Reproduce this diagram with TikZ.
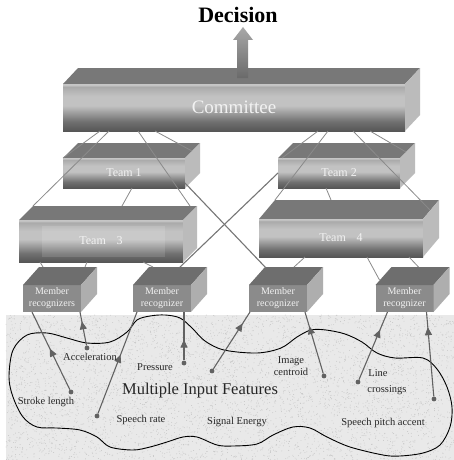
\documentclass[tikz,border=0pt]{standalone}
\usepackage{fontspec}
\setmainfont{Liberation Serif}
\usetikzlibrary{arrows.meta,decorations.markings}

% face colours of the prisms
\definecolor{pfBot}{HTML}{565656}
\definecolor{pfLow}{HTML}{707070}
\definecolor{pfLight}{HTML}{C2C2C2}
\definecolor{pfHigh}{HTML}{AAAAAA}
\definecolor{pfEdge}{HTML}{D2D2D2}
\definecolor{boxTop}{HTML}{787878}
\definecolor{boxSide}{HTML}{BBBBBB}
\definecolor{memFront}{HTML}{8B8B8B}
\definecolor{memTop}{HTML}{6E6E6E}
\definecolor{memSide}{HTML}{AEAEAE}
\definecolor{faceText}{HTML}{F2F2F2}
\definecolor{wire}{HTML}{8A8A8A}
\definecolor{crosswire}{HTML}{767676}
\definecolor{featline}{HTML}{626262}
\definecolor{ground}{HTML}{E9E9E9}
\definecolor{grain}{HTML}{C6C6C6}
\definecolor{arrowTop}{HTML}{A8A8A8}
\definecolor{arrowBot}{HTML}{6A6A6A}

\pgfdeclareverticalshading{prismface}{100bp}{color(0bp)=(pfBot); color(25bp)=(pfBot); color(35bp)=(pfLow); color(52bp)=(pfLight); color(62bp)=(pfLight); color(72bp)=(pfHigh); color(75bp)=(pfEdge); color(100bp)=(pfEdge)}

% top and right faces of a prism whose front face is the node #1
\newcommand\prismsides[5]{%
  \fill[#4] (#1.north west) -- ([xshift=#2pt,yshift=#3pt]#1.north west)
    -- ([xshift=#2pt,yshift=#3pt]#1.north east) -- (#1.north east) -- cycle;
  \fill[#5] (#1.north east) -- ([xshift=#2pt,yshift=#3pt]#1.north east)
    -- ([xshift=#2pt,yshift=#3pt]#1.south east) -- (#1.south east) -- cycle;
}

\begin{document}
\begin{tikzpicture}[x=1pt,y=-1pt,
  prism/.style={shade, shading=prismface, inner sep=0pt, outer sep=0pt,
    text=faceText, font=\fontsize{12}{14}\selectfont},
  member/.style={fill=memFront, inner sep=0pt, outer sep=0pt,
    minimum width=58pt, minimum height=27pt, text=faceText, align=center,
    font=\fontsize{10}{12}\selectfont},
  wireline/.style={draw=wire, line width=0.8pt},
  crossline/.style={draw=crosswire, line width=1.1pt},
  fdot/.style={circle, fill=featline, inner sep=0pt, minimum size=4.8pt},
  feed/.style={draw=featline, line width=1.1pt, postaction={decorate},
    decoration={markings, mark=at position #1 with {\arrow{Triangle[length=8pt,width=7pt]}}}},
  flabel/.style={text=black!85, inner sep=0pt, font=\fontsize{10.5}{12.5}\selectfont}]

\useasboundingbox (0,0) rectangle (454,460);
\fill[white] (0,0) rectangle (454,460);

% speckled ground under the feature cloud
\fill[ground] (6,315) rectangle (454,460);
\pgfmathsetseed{11}
\foreach \k in {1,...,5200} {
  \pgfmathsetmacro\px{6+448*rnd}
  \pgfmathsetmacro\py{315+145*rnd}
  \fill[grain] (\px,\py) circle (0.45pt);
}

% outline of the feature cloud
\draw[black, line width=0.9pt] plot[smooth cycle, tension=0.55] coordinates {
  (9,377) (13,350) (27,335) (47,333) (67,338) (87,343) (110,342) (127,332)
  (137,320) (150,316) (165,315) (180,318) (192,328) (205,341) (224,350)
  (257,353) (281,348) (297,337) (311,330) (326,330) (345,334) (362,342)
  (377,353) (395,358) (423,358) (437,369) (447,387) (452,407) (450,427)
  (440,445) (423,453) (400,456) (383,455) (350,447) (327,437) (310,428)
  (293,427) (273,435) (257,444) (233,446) (217,445) (197,437) (183,437)
  (167,442) (150,447) (133,450) (110,447) (97,437) (80,430) (57,428)
  (37,427) (23,417) (13,397)};

% decision heading
\node[font=\fontsize{22}{24}\selectfont\bfseries] (dec) at (238,15) {Decision};

% committee
\node[prism, minimum width=342pt, minimum height=47pt,
      font=\fontsize{19}{21}\selectfont] (com) at (234,107.5) {Committee};
\prismsides{com}{15}{16}{boxTop}{boxSide}

% output arrow on the committee
\shade[top color=arrowTop, bottom color=arrowBot]
  (237,78) -- (237,40) -- (233,40) -- (243,27) -- (253,40) -- (248,40) -- (248,78) -- cycle;

% teams
\node[prism, minimum width=122pt, minimum height=30pt] (t1) at (124,173) {Team 1};
\prismsides{t1}{15}{15}{boxTop}{boxSide}
\node[prism, minimum width=122pt, minimum height=30pt] (t2) at (339,173) {Team 2};
\prismsides{t2}{15}{15}{boxTop}{boxSide}
\node[prism, minimum width=164pt, minimum height=42pt] (t3) at (101,241) {Team\hspace{0.9em}3};
\prismsides{t3}{14}{14}{boxTop}{boxSide}
\fill[white, opacity=0.12] ([xshift=23pt,yshift=-6pt]t3.north west)
  rectangle ([xshift=-18pt,yshift=5pt]t3.south east);
\node[prism, minimum width=164pt, minimum height=38pt] (t4) at (341,238) {Team\hspace{0.9em}4};
\prismsides{t4}{16}{19}{boxTop}{boxSide}

% member recognizers
\node[member] (m1) at (52,298.5) {Member\\recognizers};
\prismsides{m1}{16}{18}{memTop}{memSide}
\node[member] (m2) at (162,298.5) {Member\\recognizer};
\prismsides{m2}{16}{18}{memTop}{memSide}
\node[member] (m3) at (278,298.5) {Member\\recognizer};
\prismsides{m3}{16}{18}{memTop}{memSide}
\node[member] (m4) at (404.5,298.5) {Member\\recognizer};
\prismsides{m4}{16}{18}{memTop}{memSide}

% committee to teams
\draw[wireline] ([xshift=37pt]com.south west) -- (t1.north west);
\draw[wireline] ([xshift=46pt]com.south west) -- ([xshift=14pt,yshift=14pt]t3.north west);
\draw[wireline] ([xshift=75pt]com.south west) -- ([xshift=7pt,yshift=14pt]t3.north east);
\draw[wireline] ([xshift=92pt]com.south west) -- ([xshift=7pt,yshift=7pt]t1.north east);
\draw[wireline] ([xshift=255pt]com.south west) -- ([xshift=4pt]t2.north west);
\draw[wireline] ([xshift=265pt]com.south west) -- ([xshift=16pt,yshift=19pt]t4.north west);
\draw[wireline] ([xshift=290pt]com.south west) -- ([xshift=7pt,yshift=9pt]t4.north east);
\draw[wireline] ([xshift=307pt]com.south west) -- ([xshift=6pt,yshift=6pt]t2.north east);

% team to team
\draw[wireline] ([xshift=69pt]t1.south west) -- ([xshift=103pt,yshift=14pt]t3.north west);
\draw[wireline] ([xshift=48pt]t2.south west) -- ([xshift=72pt,yshift=19pt]t4.north west);

% crossing links
\draw[crossline] ([yshift=5pt]t1.south east) -- ([xshift=17pt,yshift=17pt]m3.north west);
\draw[crossline] (t2.west) -- ([xshift=47pt,yshift=18pt]m2.north west);

% teams to members
\draw[wireline] ([xshift=21pt]t3.south west) -- ([xshift=20pt,yshift=18pt]m1.north west);
\draw[wireline] ([xshift=68pt]t3.south west) -- ([xshift=62pt,yshift=18pt]m1.north west);
\draw[wireline] ([xshift=124pt]t3.south west) -- ([xshift=20pt,yshift=18pt]m2.north west);
\draw[wireline] ([xshift=46pt]t4.south west) -- ([xshift=45pt,yshift=18pt]m3.north west);
\draw[wireline] ([xshift=108pt]t4.south west) -- ([xshift=4pt,yshift=5pt]m4.north west);
\draw[wireline] ([xshift=150pt]t4.south west) -- ([xshift=43pt,yshift=18pt]m4.north west);

% feature points
\node[fdot] (fStroke) at (71,392) {};
\node[fdot] (fAcc) at (87,348) {};
\node[fdot] (fRate) at (97,416) {};
\node[fdot] (fPress) at (184,363) {};
\node[fdot] (fEnergy) at (212,371) {};
\node[fdot] (fCent) at (324,376) {};
\node[fdot] (fLine) at (358,382) {};
\node[fdot] (fPitch) at (434,399) {};

\draw[feed=0.53] (fStroke) -- ([xshift=9pt]m1.south west);
\draw[feed=0.72] (fAcc) -- ([xshift=57pt]m1.south west);
\draw[feed=0.58] (fRate) -- ([xshift=4pt]m2.south west);
\draw[feed=0.43] (fPress) -- ([xshift=22pt]m2.south);
\draw[feed=0.80] (fEnergy) -- ([xshift=1pt]m3.south west);
\draw[feed=0.77] (fCent) -- ([xshift=56pt]m3.south west);
\draw[feed=0.74] (fLine) -- ([xshift=12pt]m4.south west);
\draw[feed=0.82] (fPitch) -- ([xshift=51pt]m4.south west);

% feature labels
\node[flabel] (lAcc) at (90,357) {Acceleration};
\node[flabel] (lPress) at (155,367) {Pressure};
\node[flabel, align=center] (lCent) at (291,366) {Image\\centroid};
\node[flabel] (lLine) at (378,373) {Line};
\node[flabel] (lCross) at (387,390) {crossings};
\node[text=black!85, inner sep=0pt, font=\fontsize{16.5}{18}\selectfont] (lMulti) at (200,391) {Multiple Input Features};
\node[flabel] (lStroke) at (46,402) {Stroke length};
\node[flabel] (lRate) at (141,420) {Speech rate};
\node[flabel] (lEnergy) at (237,422) {Signal Energy};
\node[flabel] (lPitch) at (383,423) {Speech pitch accent};

\end{tikzpicture}
\end{document}
